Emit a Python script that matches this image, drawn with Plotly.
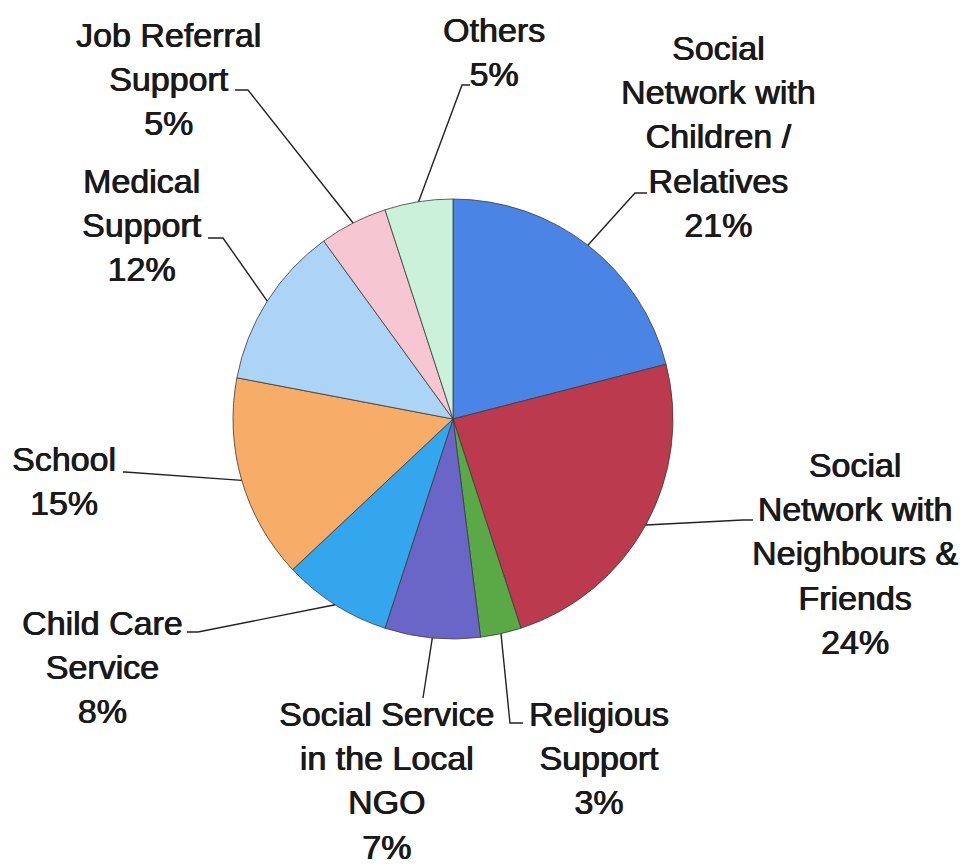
import math
import plotly.graph_objects as go

# Sources of support, share of respondents (%)
categories = [
    "Social Network with Children / Relatives",
    "Social Network with Neighbours & Friends",
    "Religious Support",
    "Social Service in the Local NGO",
    "Child Care Service",
    "School",
    "Medical Support",
    "Job Referral Support",
    "Others",
]
values = [21, 24, 3, 7, 8, 15, 12, 5, 5]
label_lines = [
    ["Social", "Network with", "Children /", "Relatives"],
    ["Social", "Network with", "Neighbours &", "Friends"],
    ["Religious", "Support"],
    ["Social Service", "in the Local", "NGO"],
    ["Child Care", "Service"],
    ["School"],
    ["Medical", "Support"],
    ["Job Referral", "Support"],
    ["Others"],
]
colors = ["#4a84e4", "#bc3a4e", "#5aa846", "#6a66c8", "#33a6ee",
          "#f7ac68", "#acd4f6", "#f6c6d2", "#caf2da"]

W, H = 960, 868
CX, CY, R = 453, 419, 220          # pie centre / radius in pixels

# label block centres and leader-line elbow/end points (pixels)
label_pos = [(718, 137), (855, 553), (599, 758), (386, 780), (102, 667),
             (64, 481), (142, 225), (168, 79), (494, 52)]
elbows = [(635, 193), (743, 520), (510, 723), (423, 698), (198, 632),
          (125, 472), (223, 238), (248, 90), (462, 85)]
ends = [(647, 193), (753, 520), (523, 723), (423, 698), (187, 632),
        (123, 472), (208, 238), (235, 90), (470, 85)]


def px(x):
    return x / W


def py(y):
    return 1 - y / H


fig = go.Figure(go.Pie(
    labels=categories,
    values=values,
    sort=False,
    direction="clockwise",
    rotation=0,
    textinfo="none",
    hoverinfo="label+percent",
    marker=dict(colors=colors, line=dict(color="#3a3a3a", width=0.8)),
    domain=dict(x=[px(CX - R), px(CX + R)], y=[py(CY + R), py(CY - R)]),
    showlegend=False,
))

total = sum(values)
cum = 0
annotations = []
shapes = []
for i, v in enumerate(values):
    mid = (cum + v / 2) / total * 2 * math.pi
    cum += v
    ex = CX + R * math.sin(mid)
    ey = CY - R * math.cos(mid)
    (bx, by), (tx, ty) = elbows[i], ends[i]
    path = f"M {px(ex)} {py(ey)} L {px(bx)} {py(by)} L {px(tx)} {py(ty)}"
    shapes.append(dict(type="path", xref="paper", yref="paper", path=path,
                       line=dict(color="#222222", width=1.4)))
    pct = round(v / total * 100)
    text = "<br>".join(label_lines[i] + [f"{pct}%"])
    lx, ly = label_pos[i]
    annotations.append(dict(
        x=px(lx), y=py(ly), xref="paper", yref="paper",
        text=text, showarrow=False, align="center",
        xanchor="center", yanchor="middle",
        font=dict(family="Liberation Sans, Arial, sans-serif", size=34,
                  color="#1a1a1a",
                  shadow="0.6px 0 0 #1a1a1a, -0.3px 0 0 #1a1a1a"),
    ))

fig.update_layout(
    width=W, height=H,
    margin=dict(l=0, r=0, t=0, b=0),
    paper_bgcolor="white",
    plot_bgcolor="white",
    annotations=annotations,
    shapes=shapes,
)

fig.write_html("out.html")
